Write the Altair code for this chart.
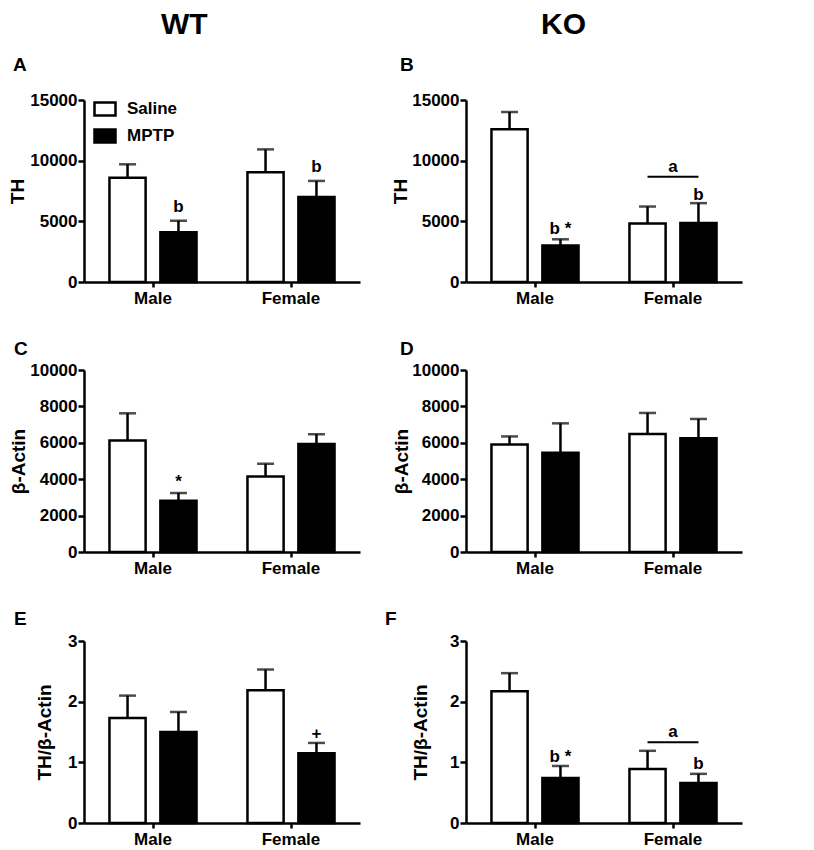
import altair as alt
import pandas as pd

FONT = "Liberation Sans"

sexes = ["Male", "Female"]
treatments = ["Saline", "MPTP"]

# order of values: Male-Saline, Male-MPTP, Female-Saline, Female-MPTP
A_mean = [8600, 4100, 9050, 7000]
A_sem = [1100, 950, 1880, 1330]
B_mean = [12580, 3000, 4820, 4870]
B_sem = [1430, 520, 1400, 1630]
C_mean = [6120, 2810, 4150, 5940]
C_sem = [1500, 430, 700, 530]
D_mean = [5900, 5450, 6490, 6250]
D_sem = [450, 1620, 1150, 1060]
E_mean = [1.73, 1.50, 2.19, 1.15]
E_sem = [0.37, 0.33, 0.34, 0.17]
F_mean = [2.17, 0.74, 0.89, 0.66]
F_sem = [0.30, 0.20, 0.30, 0.15]

y_titles = {"A": "TH", "B": "TH", "C": "β-Actin", "D": "β-Actin",
            "E": "TH/β-Actin", "F": "TH/β-Actin"}
y_domains = {"A": [0, 15000], "B": [0, 15000], "C": [0, 10000], "D": [0, 10000],
             "E": [0, 3], "F": [0, 3]}
y_ticks = {"A": [0, 5000, 10000, 15000], "B": [0, 5000, 10000, 15000],
           "C": [0, 2000, 4000, 6000, 8000, 10000], "D": [0, 2000, 4000, 6000, 8000, 10000],
           "E": [0, 1, 2, 3], "F": [0, 1, 2, 3]}

# significance marks above MPTP bars: panel, sex, label, baseline value
mark_panel = ["A", "A", "B", "B", "C", "E", "F", "F"]
mark_sex = ["Male", "Female", "Male", "Female", "Male", "Female", "Male", "Female"]
mark_text = ["b", "b", "b *", "b", "*", "+", "b *", "b"]
mark_y = [5780, 9083, 3991, 6743, 3583, 1.38, 1.00, 0.89]

# "a" bracket over the female pair
br_panel = ["B", "F"]
br_line_y = [8670, 1.33]
br_text_y = [9028, 1.41]
br_text = ["a", "a"]

means = {"A": A_mean, "B": B_mean, "C": C_mean, "D": D_mean, "E": E_mean, "F": F_mean}
sems = {"A": A_sem, "B": B_sem, "C": C_sem, "D": D_sem, "E": E_sem, "F": F_sem}

rows = []
for p in means:
    i = 0
    for s in sexes:
        for t in treatments:
            m = means[p][i]
            e = sems[p][i]
            rows.append({"panel": p, "sex": s, "treatment": t, "mean": m, "top": m + e})
            i += 1
df = pd.DataFrame(rows)

marks_df = pd.DataFrame({"panel": mark_panel, "sex": mark_sex, "treatment": "MPTP",
                         "label": mark_text, "y": mark_y})

title_pad = {"A": 2, "B": 1, "C": 1, "D": 0, "E": 13, "F": 19}
letter_dx = {"A": -71, "B": -66, "C": -70, "D": -66, "E": -70, "F": -81}
letter_offset = {"A": 16, "B": 16, "C": 2, "D": 2, "E": 3, "F": 3}


def panel(p):
    sub = df[df.panel == p]
    x = alt.X("sex:N", sort=sexes,
              scale=alt.Scale(paddingInner=0, paddingOuter=0),
              axis=alt.Axis(title=None, labelAngle=0, tickSize=5, labelPadding=3))
    xo = alt.XOffset("treatment:N", sort=treatments,
                     scale=alt.Scale(paddingInner=0.29, paddingOuter=0.5))
    yscale = alt.Scale(domain=y_domains[p], nice=False, zero=True)
    yax = alt.Axis(values=y_ticks[p], format="d", title=y_titles[p],
                   titlePadding=title_pad[p], tickSize=6, labelPadding=1,
                   labelOverlap=False, labelBound=False)
    if p == "A":
        leg = alt.Legend(title=None, orient="none", legendX=9, legendY=-3,
                         symbolType="M-1,-0.62H1V0.62H-1Z", symbolSize=441,
                         symbolStrokeColor="black", symbolStrokeWidth=2.5,
                         labelFontSize=17, labelFont=FONT, labelFontWeight="bold",
                         labelOffset=10, rowPadding=3, padding=0, labelColor="black")
    else:
        leg = None
    fill = alt.Fill("treatment:N", sort=treatments,
                    scale=alt.Scale(domain=treatments, range=["white", "black"]),
                    legend=leg)
    base = alt.Chart(sub)
    bars = base.mark_bar(stroke="black", strokeWidth=2.5).encode(
        x=x, xOffset=xo, y=alt.Y("mean:Q", scale=yscale, axis=yax), fill=fill)
    err = base.mark_rule(color="black", strokeWidth=2.5).encode(
        x=x, xOffset=xo, y=alt.Y("mean:Q", axis=yax), y2="top:Q")
    caps = base.mark_tick(color="black", size=17, thickness=2.5).encode(
        x=x, xOffset=xo, y=alt.Y("top:Q", axis=yax))
    layers = [bars, err, caps]
    msub = marks_df[marks_df.panel == p]
    if len(msub):
        layers.append(alt.Chart(msub).mark_text(
            font=FONT, fontSize=17, fontWeight="bold", baseline="alphabetic",
            color="black").encode(x=x, xOffset=xo, y=alt.Y("y:Q", axis=yax),
                                  text="label:N"))
    if p in br_panel:
        k = br_panel.index(p)
        ldf = pd.DataFrame({"sex": "Female", "treatment": treatments,
                            "y": [br_line_y[k]] * 2})
        layers.append(alt.Chart(ldf).mark_line(color="black", strokeWidth=2).encode(
            x=x, xOffset=xo, y=alt.Y("y:Q", axis=yax)))
        tdf = pd.DataFrame({"sex": ["Female"], "y": [br_text_y[k]], "label": [br_text[k]]})
        layers.append(alt.Chart(tdf).mark_text(
            font=FONT, fontSize=17, fontWeight="bold", baseline="alphabetic",
            color="black").encode(x=x, y=alt.Y("y:Q", axis=yax), text="label:N"))
    return alt.layer(*layers).properties(
        width=276, height=182,
        title=alt.TitleParams(p, anchor="start", frame="group", dx=letter_dx[p],
                              fontSize=19, font=FONT, fontWeight="bold",
                              offset=letter_offset[p], color="black"))


def header(t):
    return alt.TitleParams(t, anchor="middle", fontSize=30, font=FONT,
                           fontWeight="bold", offset=16, color="black")


col_wt = alt.vconcat(panel("A"), panel("C"), panel("E"), spacing=34, title=header("WT"))
col_ko = alt.vconcat(panel("B"), panel("D"), panel("F"), spacing=34, title=header("KO"))

chart = alt.hconcat(col_wt, col_ko, spacing=25).properties(
    padding={"left": 0, "top": 2, "right": 5, "bottom": 0}
).configure_view(stroke=None).configure_axis(
    grid=False, domainColor="black", tickColor="black", domainWidth=2.5,
    tickWidth=2.5, labelColor="black", titleColor="black", labelFont=FONT,
    titleFont=FONT, labelFontSize=17, titleFontSize=19, labelFontWeight="bold",
    titleFontWeight="bold", labelOverlap=False
).resolve_scale(fill="independent")

chart.save("out.html", embed_options={"renderer": "svg", "actions": False})
